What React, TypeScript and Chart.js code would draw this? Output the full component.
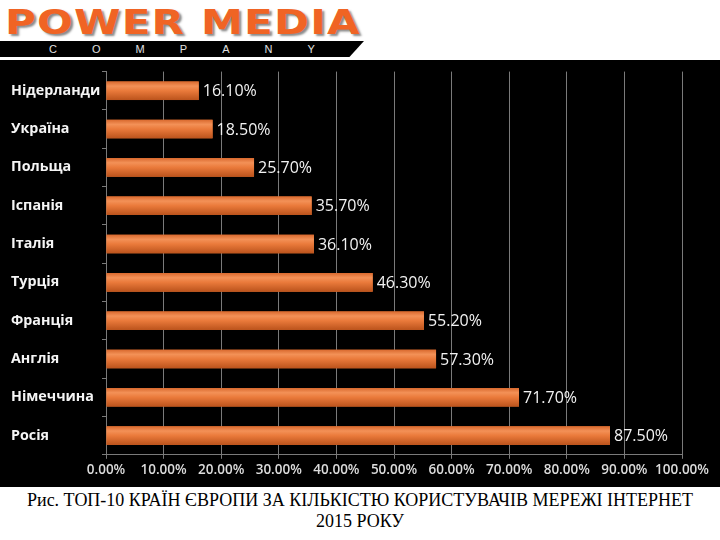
import React, { useEffect, useRef } from "react";
import { Chart, registerables } from "chart.js";

Chart.register(...registerables);

const countries = ["Нідерланди", "Україна", "Польща", "Іспанія", "Італія", "Турція", "Франція", "Англія", "Німеччина", "Росія"];
const shares = [16.1, 18.5, 25.7, 35.7, 36.1, 46.3, 55.2, 57.3, 71.7, 87.5];
const companyLetters = ["C", "O", "M", "P", "A", "N", "Y"];
const captionLine1 = "Рис. ТОП-10 КРАЇН ЄВРОПИ ЗА КІЛЬКІСТЮ КОРИСТУВАЧІВ МЕРЕЖІ ІНТЕРНЕТ";
const captionLine2 = "2015 РОКУ";

const SANS = "'Open Sans', 'Noto Sans', sans-serif";

const barStyle = {
  id: "barStyle",
  afterDatasetsDraw(chart: any) {
    const ctx = chart.ctx;
    const meta = chart.getDatasetMeta(0);
    ctx.save();
    meta.data.forEach((bar: any, i: number) => {
      const p = bar.getProps(["x", "y", "base", "height"], true);
      const top = p.y - p.height / 2;
      const g = ctx.createLinearGradient(0, top, 0, top + p.height);
      g.addColorStop(0, "#d9692e");
      g.addColorStop(0.25, "#f39157");
      g.addColorStop(0.5, "#ea7a3b");
      g.addColorStop(1, "#bb531c");
      ctx.fillStyle = g;
      ctx.fillRect(p.base, top, p.x - p.base, p.height);
      ctx.fillStyle = "#f2f2f2";
      ctx.font = `16px ${SANS}`;
      ctx.textAlign = "left";
      ctx.textBaseline = "middle";
      ctx.fillText(shares[i].toFixed(2) + "%", p.x + 4, p.y + 1);
    });
    ctx.restore();
  },
};

export default function App() {
  const ref = useRef<HTMLCanvasElement>(null);
  useEffect(() => {
    document.body.style.margin = "0";
    const chart = new Chart(ref.current!, {
      type: "bar",
      data: {
        labels: countries,
        datasets: [
          {
            data: shares,
            backgroundColor: "#e2722f",
            barPercentage: 0.5,
            categoryPercentage: 0.97,
          },
        ],
      },
      plugins: [barStyle],
      options: {
        indexAxis: "y",
        animation: false,
        responsive: false,
        layout: { padding: { left: 11, right: 38, top: 10, bottom: 6 } },
        plugins: { legend: { display: false }, tooltip: { enabled: false } },
        scales: {
          x: {
            min: 0,
            max: 100,
            ticks: {
              stepSize: 10,
              color: "#dcdcdc",
              font: { family: SANS, size: 13.5, weight: "600" },
              padding: 3,
              maxRotation: 0,
              minRotation: 0,
              autoSkip: false,
              callback: (v: any) => Number(v).toFixed(2) + "%",
            },
            grid: { color: "#7a7a7a", lineWidth: 1, tickLength: 4 },
            border: { color: "#7a7a7a" },
          },
          y: {
            ticks: {
              color: "#f5f5f5",
              crossAlign: "far",
              font: { family: SANS, size: 14.3, weight: "bold" },
            },
            grid: { offset: true, drawOnChartArea: false, color: "#7a7a7a", tickLength: 4 },
            border: { color: "#7a7a7a" },
            afterFit: (s: any) => {
              s.width = 95;
            },
          },
        },
      },
    });
    return () => chart.destroy();
  }, []);

  return (
    <div style={{ width: 720, height: 540, position: "relative", background: "#fff", overflow: "hidden" }}>
      <div style={{ position: "absolute", left: 0, top: 0, width: 720, height: 60, background: "#fff" }}>
        <div
          style={{
            position: "absolute",
            left: 5,
            top: 4,
            fontFamily: "'DejaVu Sans', sans-serif",
            fontWeight: "bold",
            fontSize: 36,
            lineHeight: "40px",
            color: "#f06424",
            textShadow: "2px 2px 2px #8a8a8a",
            transform: "scale(1.17, 0.95)",
            transformOrigin: "left top",
            whiteSpace: "nowrap",
            letterSpacing: 1,
          }}
        >
          POWER MEDIA
        </div>
        <div
          style={{
            position: "absolute",
            left: 0,
            top: 41,
            width: 364,
            height: 16,
            background: "#000",
            clipPath: "polygon(0 0, 100% 0, 96% 100%, 0 100%)",
          }}
        >
          <div
            style={{
              position: "absolute",
              left: 49,
              width: 266,
              top: 0,
              height: 16,
              display: "flex",
              justifyContent: "space-between",
              alignItems: "center",
              fontFamily: "'Liberation Sans', sans-serif",
              fontSize: 11,
              color: "#e0e0e0",
            }}
          >
            {companyLetters.map((l) => (
              <span key={l}>{l}</span>
            ))}
          </div>
        </div>
      </div>
      <div style={{ position: "absolute", left: 0, top: 60, width: 720, height: 427, background: "#000" }}>
        <canvas ref={ref} width={720} height={427} style={{ display: "block" }} />
      </div>
      <div
        style={{
          position: "absolute",
          left: 0,
          top: 490,
          width: 720,
          textAlign: "center",
          fontFamily: "'Liberation Serif', 'Times New Roman', serif",
          fontSize: 18,
          lineHeight: "21px",
          color: "#000",
        }}
      >
        <div>{captionLine1}</div>
        <div>{captionLine2}</div>
      </div>
    </div>
  );
}
